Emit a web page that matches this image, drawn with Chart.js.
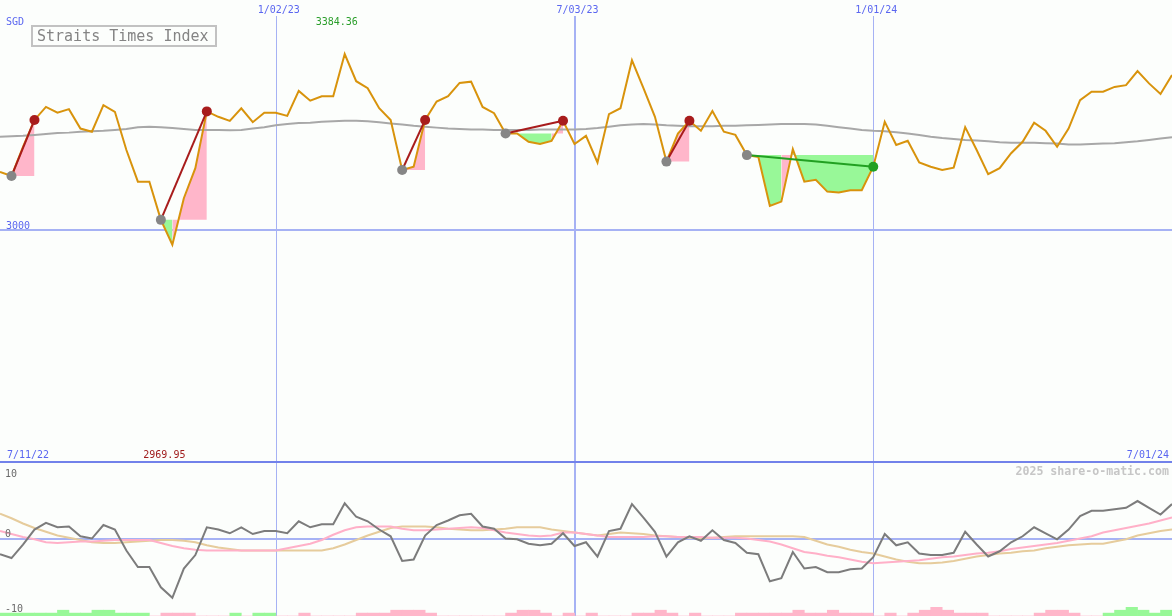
<!DOCTYPE html>
<html>
<head>
<meta charset="utf-8">
<script src="https://cdn.jsdelivr.net/npm/chart.js@4.4.1/dist/chart.umd.min.js"></script>
<style>
  html, body { margin: 0; padding: 0; background: #fcfefc; }
  #wrap { position: relative; width: 1172px; height: 616px; overflow: hidden; }
  canvas { position: absolute; left: 0; }
  #top { top: 0; }
  #sep { position: absolute; left: 0; top: 461px; width: 1172px; height: 2px; background: #7282ea; }
  #bot { top: 463px; }
</style>
</head>
<body>
<div id="wrap">
  <canvas id="top" width="1172" height="461"></canvas>
  <div id="sep"></div>
  <canvas id="bot" width="1172" height="153"></canvas>
</div>
<script>
// ── DATA (weekly closes, 103 weeks) ──
const title      = 'Straits Times Index';
const currency   = 'SGD';
const startLabel = '7/11/22';
const endLabel   = '7/01/24';
const tickIdx    = [24, 50, 76];
const tickLabels = ['1/02/23', '7/03/23', '1/01/24'];
const refLevel   = 3000;

const price = [
  3122, 3113, 3176, 3235, 3264, 3251, 3259, 3216, 3209, 3268,
  3253, 3169, 3101, 3101, 3021, 2969.95, 3066, 3130, 3254, 3242,
  3233, 3261, 3230, 3251, 3251, 3244, 3300, 3278, 3288, 3288,
  3384.36, 3322, 3306, 3261, 3235, 3126, 3133, 3235, 3276, 3288,
  3318, 3321, 3264, 3250, 3205, 3205, 3187, 3182, 3189, 3233,
  3182, 3200, 3142, 3248, 3261, 3370, 3306, 3242, 3144, 3205,
  3233, 3211, 3255, 3209, 3202, 3158, 3154, 3050, 3059, 3171,
  3101, 3105, 3080, 3078, 3083, 3083, 3133, 3231, 3180, 3189,
  3142, 3133, 3126, 3131, 3219, 3169, 3117, 3130, 3162, 3187,
  3229, 3211, 3176, 3216, 3279, 3298, 3298, 3309, 3313, 3345,
  3317, 3293, 3336
];

const movAvg = [
  3198, 3199, 3200, 3202, 3204, 3206, 3207, 3209, 3210, 3211,
  3213, 3215, 3219, 3220, 3219, 3217, 3215, 3213, 3213, 3213,
  3212, 3213, 3216, 3219, 3223, 3226, 3228, 3229, 3231, 3232,
  3233, 3233, 3232, 3230, 3227, 3225, 3222, 3220, 3218, 3216,
  3215, 3214, 3214, 3213, 3213, 3213, 3213, 3214, 3214, 3214,
  3214, 3215, 3217, 3220, 3223, 3225, 3226, 3225, 3223, 3222,
  3221, 3221, 3221, 3222, 3222, 3223, 3224, 3225, 3226, 3226,
  3226, 3225, 3222, 3219, 3216, 3213, 3211, 3210, 3208, 3205,
  3202, 3198, 3195, 3193, 3191, 3190, 3188, 3186, 3185, 3185,
  3185, 3184, 3183, 3181, 3181, 3182, 3183, 3184, 3186, 3188,
  3191, 3194, 3197
];

// trades: entry week -> exit week
const entryIdx = [1, 14, 35, 44, 58, 65];
const exitIdx  = [3, 18, 37, 49, 60, 76];

// lower panel: % distance from average, two smoothed lines, signal bars
const osc = [
  -2.1, -2.6, -0.8, 1.2, 2.1, 1.5, 1.6, 0.3, 0, 1.8,
  1.2, -1.6, -3.8, -3.8, -6.5, -7.9, -4.0, -2.2, 1.5, 1.2,
  0.7, 1.5, 0.6, 1.0, 1.0, 0.7, 2.3, 1.5, 1.9, 1.9,
  4.7, 2.9, 2.3, 1.2, 0.3, -3.0, -2.8, 0.4, 1.8, 2.4,
  3.1, 3.3, 1.6, 1.3, 0, -0.1, -0.7, -0.9, -0.7, 0.7,
  -1.0, -0.5, -2.4, 1.0, 1.3, 4.6, 2.8, 0.9, -2.4, -0.5,
  0.3, -0.3, 1.1, -0.2, -0.6, -1.9, -2.1, -5.7, -5.3, -1.8,
  -4.0, -3.8, -4.5, -4.5, -4.1, -4.0, -2.5, 0.6, -0.9, -0.5,
  -2.0, -2.2, -2.2, -1.9, 0.9, -0.8, -2.4, -1.7, -0.5, 0.3,
  1.5, 0.7, -0.1, 1.2, 3.0, 3.7, 3.7, 3.9, 4.1, 5.0,
  4.1, 3.2, 4.6
];

const oscFast = [
  1.0, 0.6, 0.2, -0.1, -0.5, -0.6, -0.5, -0.4, -0.4, -0.3,
  -0.2, -0.2, -0.2, -0.2, -0.6, -1.0, -1.3, -1.5, -1.6, -1.6,
  -1.6, -1.6, -1.6, -1.6, -1.6, -1.3, -1.0, -0.7, -0.2, 0.5,
  1.1, 1.5, 1.6, 1.6, 1.6, 1.3, 1.1, 1.1, 1.2, 1.3,
  1.4, 1.5, 1.4, 1.1, 0.8, 0.6, 0.4, 0.3, 0.4, 0.8,
  0.8, 0.6, 0.4, 0.2, 0.2, 0.2, 0.2, 0.3, 0.3, 0.2,
  0.2, 0.2, 0.1, 0.1, 0.1, 0.0, -0.2, -0.4, -0.8, -1.3,
  -1.8, -2.0, -2.3, -2.5, -2.8, -3.1, -3.3, -3.2, -3.1, -3.0,
  -2.9, -2.7, -2.5, -2.4, -2.2, -2.0, -1.9, -1.7, -1.4, -1.2,
  -1.0, -0.8, -0.6, -0.3, 0.0, 0.3, 0.8, 1.1, 1.4, 1.7,
  2.0, 2.4, 2.8
];

const oscSlow = [
  3.3, 2.7, 2.0, 1.4, 0.9, 0.4, 0.1, -0.2, -0.5, -0.6,
  -0.6, -0.5, -0.4, -0.3, -0.2, -0.2, -0.3, -0.5, -0.9, -1.2,
  -1.4, -1.6, -1.6, -1.6, -1.6, -1.6, -1.6, -1.6, -1.6, -1.3,
  -0.8, -0.2, 0.4, 0.9, 1.4, 1.6, 1.6, 1.6, 1.5, 1.3,
  1.2, 1.1, 1.1, 1.2, 1.3, 1.5, 1.5, 1.5, 1.2, 1.0,
  0.8, 0.6, 0.4, 0.6, 0.8, 0.7, 0.6, 0.4, 0.3, 0.2,
  0.1, 0.0, 0.1, 0.2, 0.3, 0.3, 0.3, 0.3, 0.3, 0.3,
  0.2, -0.3, -0.8, -1.1, -1.5, -1.8, -2.0, -2.4, -2.8, -3.1,
  -3.3, -3.3, -3.2, -3.0, -2.7, -2.4, -2.2, -2.0, -1.9, -1.7,
  -1.6, -1.3, -1.1, -0.9, -0.8, -0.7, -0.7, -0.4, -0.1, 0.4,
  0.7, 1.0, 1.2
];

// + green / - pink, height in steps
const signal = [
  1, 1, 1, 1, 1, 2, 1, 1, 2, 2,
  1, 1, 1, 0, -1, -1, -1, 0, 0, 0,
  1, 0, 1, 1, 0, 0, -1, 0, 0, 0,
  0, -1, -1, -1, -2, -2, -2, -1, 0, 0,
  0, 0, 0, 0, -1, -2, -2, -1, 0, -1,
  0, -1, 0, 0, 0, -1, -1, -2, -1, 0,
  -1, 0, 0, 0, -1, -1, -1, -1, -1, -2,
  -1, -1, -2, -1, -1, -1, 0, -1, 0, -1,
  -2, -3, -2, -1, -1, -1, 0, 0, 0, 0,
  -1, -2, -2, -1, 0, 0, 1, 2, 3, 2,
  1, 2, 0
];

// ── COLOURS ──
const C = {
  price: '#d8930c', avg: '#a8a8a8', grid: '#a6b2f4', text: '#5a66f0',
  pink: '#ffb6ca', green: '#98f898', win: '#a81c1c', lose: '#22a022',
  entry: '#868686', osc: '#7c7c7c', fast: '#ffb0c8', slow: '#e6cc9c'
};
const FONT = '"DejaVu Sans Mono", "Liberation Mono", monospace';
const gridWidths = [1, 2, 1];

const xs = price.map((_, k) => k);
const pts = arr => arr.map((v, k) => ({ x: k, y: v }));

// ── TRADE FILLS (coloured per week by where the week closes vs entry) ──
function tradeFills() {
  const runs = [];
  entryIdx.forEach((e, t) => {
    const level = price[e];
    let run = null;
    for (let k = e; k < exitIdx[t]; k++) {
      const col = price[k + 1] > level ? C.pink : C.green;
      if (!run || run.col !== col) {
        run = { col, level, data: [{ x: k, y: price[k] }] };
        runs.push(run);
      }
      run.data.push({ x: k + 1, y: price[k + 1] });
    }
  });
  return runs.map(r => ({
    data: r.data, order: 6, borderColor: 'transparent', borderWidth: 0,
    pointRadius: 0, backgroundColor: r.col,
    fill: { target: { value: r.level }, above: r.col, below: r.col }
  }));
}

function tradeLines() {
  return entryIdx.map((e, t) => {
    const x = exitIdx[t];
    return {
      data: [{ x: e, y: price[e] }, { x, y: price[x] }],
      order: 2, borderColor: price[x] > price[e] ? C.win : C.lose,
      borderWidth: 2, pointRadius: 0, fill: false
    };
  });
}

function tradeDots() {
  const data = [], colors = [];
  entryIdx.forEach((e, t) => {
    const x = exitIdx[t];
    data.push({ x: e, y: price[e] }); colors.push(C.entry);
    data.push({ x, y: price[x] });    colors.push(price[x] > price[e] ? C.win : C.lose);
  });
  return {
    data, order: 1, showLine: false, pointRadius: 5, pointHoverRadius: 5,
    pointBackgroundColor: colors, pointBorderWidth: 0, pointBorderColor: colors
  };
}

// ── HELPERS ──
function vLines(chart, top) {
  const { ctx, chartArea, scales } = chart;
  ctx.save();
  ctx.strokeStyle = C.grid;
  tickIdx.forEach((k, i) => {
    const w = gridWidths[i];
    const x = Math.round(scales.x.getPixelForValue(k)) + (w % 2 ? 0.5 : 0);
    ctx.lineWidth = w;
    ctx.beginPath(); ctx.moveTo(x, top); ctx.lineTo(x, chartArea.bottom); ctx.stroke();
  });
  ctx.restore();
}

function hLine(chart, scaleId, v) {
  const { ctx, chartArea, scales } = chart;
  const y = Math.round(scales[scaleId].getPixelForValue(v));
  ctx.save();
  ctx.strokeStyle = C.grid; ctx.lineWidth = 2;
  ctx.beginPath(); ctx.moveTo(chartArea.left, y); ctx.lineTo(chartArea.right, y); ctx.stroke();
  ctx.restore();
}

function label(ctx, txt, x, y, color, align = 'left', font = '10px ' + FONT) {
  ctx.font = font; ctx.fillStyle = color;
  ctx.textAlign = align; ctx.textBaseline = 'alphabetic';
  ctx.fillText(txt, x, y);
}

const baseOpts = {
  responsive: false, animation: false, events: [],
  layout: { padding: 0, autoPadding: false },
  plugins: { legend: { display: false }, tooltip: { enabled: false } },
  elements: { line: { tension: 0 } }
};

// ── UPPER PANEL ──
const topDecor = {
  id: 'topDecor',
  beforeDatasetsDraw(chart) {
    vLines(chart, 16);
    hLine(chart, 'y', refLevel);
  },
  afterDraw(chart) {
    const { ctx, scales } = chart;
    const yRef = Math.round(scales.y.getPixelForValue(refLevel));
    label(ctx, currency, 6, 25, C.text);
    label(ctx, String(refLevel), 6, yRef - 1, C.text);
    tickIdx.forEach((k, i) => label(ctx, tickLabels[i], scales.x.getPixelForValue(k) + 3, 12.5, C.text, 'center'));

    const hi = price.indexOf(Math.max(...price));
    const lo = price.indexOf(Math.min(...price));
    label(ctx, price[hi].toFixed(2), scales.x.getPixelForValue(hi) - 8, 25, '#2a9e2a', 'center');
    label(ctx, price[lo].toFixed(2), scales.x.getPixelForValue(lo) - 8, 457.5, '#a01c1c', 'center');
    label(ctx, startLabel, 7, 457.5, C.text);
    label(ctx, endLabel, 1169, 457.5, C.text, 'right');

    // title box
    ctx.save();
    ctx.strokeStyle = '#c2c2c2'; ctx.lineWidth = 2;
    ctx.strokeRect(32, 26, 184, 20);
    ctx.restore();
    label(ctx, title, 37, 41, '#848484', 'left', '15px ' + FONT);
  }
};

new Chart(document.getElementById('top'), {
  type: 'line',
  data: {
    datasets: [
      tradeDots(),
      ...tradeLines(),
      { data: pts(price),  order: 3, borderColor: C.price, borderWidth: 2, pointRadius: 0, fill: false },
      { data: pts(movAvg), order: 4, borderColor: C.avg,   borderWidth: 2, pointRadius: 0, fill: false },
      ...tradeFills()
    ]
  },
  options: {
    ...baseOpts,
    scales: {
      x: { type: 'linear', min: 0, max: xs.length - 1, offset: false, display: false },
      y: { type: 'logarithmic', min: 2561, max: 3512, display: false }
    }
  },
  plugins: [topDecor]
});

// ── LOWER PANEL ──
const botDecor = {
  id: 'botDecor',
  beforeDatasetsDraw(chart) {
    vLines(chart, 0);
    hLine(chart, 'y', 0);
  },
  afterDraw(chart) {
    const { ctx, scales } = chart;
    const y = v => scales.y.getPixelForValue(v);
    label(ctx, '10', 5, y(10) + 13, '#6a6a6a');
    label(ctx, '0', 5, y(0) - 2, '#6a6a6a');
    label(ctx, '-10', 5, y(-10) - 2, '#6a6a6a');
    label(ctx, '2025 share-o-matic.com', 1169, 12, '#c6c6c6', 'right', 'bold 11.6px ' + FONT);
  }
};

new Chart(document.getElementById('bot'), {
  type: 'line',
  data: {
    datasets: [
      { data: pts(osc),     order: 1, borderColor: C.osc,  borderWidth: 2, pointRadius: 0, fill: false },
      { data: pts(oscFast), order: 2, borderColor: C.fast, borderWidth: 2, pointRadius: 0, fill: false },
      { data: pts(oscSlow), order: 3, borderColor: C.slow, borderWidth: 2, pointRadius: 0, fill: false },
      {
        type: 'bar', yAxisID: 'yb', order: 5,
        data: signal.map((v, j) => ({ x: j + 0.5, y: Math.abs(v) })),
        backgroundColor: signal.map(v => v > 0 ? C.green : C.pink),
        borderWidth: 0, barPercentage: 1, categoryPercentage: 1
      }
    ]
  },
  options: {
    ...baseOpts,
    scales: {
      x:  { type: 'linear', min: 0, max: xs.length - 1, offset: false, display: false },
      y:  { type: 'linear', min: -10.33, max: 10.07, display: false },
      yb: { type: 'linear', min: 0, max: 52.76, display: false }
    }
  },
  plugins: [botDecor]
});
</script>
</body>
</html>
